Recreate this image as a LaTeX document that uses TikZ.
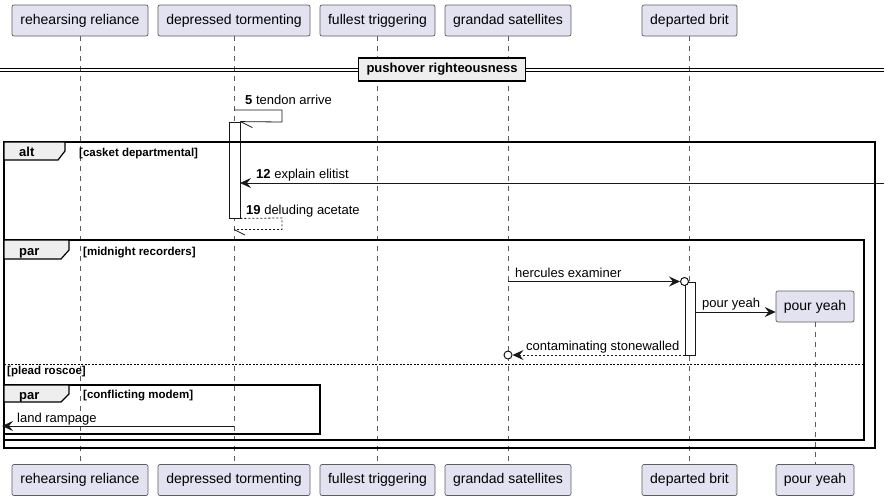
\documentclass[tikz,border=0pt]{standalone}
\usepackage{fontspec}
\setmainfont{Liberation Sans}
\usetikzlibrary{arrows.meta}
\definecolor{partfill}{HTML}{E2E2F0}
\definecolor{partline}{HTML}{181818}
\definecolor{tabfill}{HTML}{EEEEEE}
\definecolor{lifeline}{HTML}{181818}
\tikzset{
  part/.style={draw=partline!70, fill=partfill, rounded corners=2pt, minimum height=31pt, inner xsep=0pt, font=\fontsize{14}{16}\selectfont, line width=0.7pt},
  life/.style={draw=lifeline!70, dash pattern=on 5pt off 5pt, line width=0.6pt},
  msg/.style={draw=partline, line width=0.8pt},
  tip/.style={-{Stealth[length=11pt,width=10pt,inset=4pt]}},
  retmsg/.style={draw=partline, line width=0.8pt, dash pattern=on 2pt off 2pt},
  mlabel/.style={font=\fontsize{13}{15}\selectfont, inner sep=0pt, anchor=base west},
  frame/.style={draw=black, line width=1.5pt},
  tab/.style={draw=black, fill=tabfill, line width=1.2pt},
  ftitle/.style={font=\bfseries\fontsize{13}{15}\selectfont, inner sep=0pt, anchor=base west},
  guard/.style={font=\bfseries\fontsize{11.5}{13}\selectfont, inner sep=0pt, anchor=base west},
  act/.style={draw=partline, fill=white, line width=0.8pt},
  endcirc/.style={circle, draw=partline, fill=white, line width=1pt, minimum size=8pt, inner sep=0pt}
}
\begin{document}
\begin{tikzpicture}[x=1pt,y=-1pt]
\useasboundingbox (0,0) rectangle (890,501);
% participants top
\node[part, minimum width=136pt] (rr) at (80,20.5) {rehearsing reliance};
\node[part, minimum width=152pt] (dt) at (234,20.5) {depressed tormenting};
\node[part, minimum width=115pt] (ft) at (377.5,20.5) {fullest triggering};
\node[part, minimum width=126pt] (gs) at (508,20.5) {grandad satellites};
\node[part, minimum width=95pt] (db) at (689.5,20.5) {departed brit};
% participants bottom
\node[part, minimum width=136pt] (rrb) at (80,480) {rehearsing reliance};
\node[part, minimum width=152pt] (dtb) at (234,480) {depressed tormenting};
\node[part, minimum width=115pt] (ftb) at (377.5,480) {fullest triggering};
\node[part, minimum width=126pt] (gsb) at (508,480) {grandad satellites};
\node[part, minimum width=95pt] (dbb) at (689.5,480) {departed brit};
\node[part, minimum width=78pt] (pyb) at (815,480) {pour yeah};
% created participant
\node[part, minimum width=78pt] (py) at (815,306.5) {pour yeah};
% lifelines
\draw[life] (rr.south) -- (rrb.north);
\draw[life] (dt.south) -- (dtb.north);
\draw[life] (ft.south) -- (ftb.north);
\draw[life] (gs.south) -- (gsb.north);
\draw[life] (db.south) -- (dbb.north);
\draw[life] (py.south) -- (pyb.north);
% divider
\draw[black, line width=0.8pt] (0,68.5) -- (884,68.5);
\draw[black, line width=0.8pt] (0,71.5) -- (884,71.5);
\node[draw=black, fill=tabfill, line width=1.5pt, minimum width=167pt, minimum height=23pt, inner sep=0pt, font=\bfseries\fontsize{13}{15}\selectfont] (div) at (442,69.5) {pushover righteousness};
% activation on depressed tormenting
\node[act, minimum width=11pt, minimum height=96pt, inner sep=0pt] (actA) at (234.5,170) {};
% alt frame
\draw[frame] (4,142) rectangle (875,448);
\draw[tab] (4,142) -- (65,142) -- (65,151) -- (58,160) -- (4,160) -- cycle;
\node[ftitle] (altt) at (19,156) {alt};
\node[guard] (altg) at (79,156) {[casket departmental]};
% self message 5
\coordinate (s5a) at (234,110);
\coordinate (s5b) at (282,110);
\coordinate (s5c) at (282,122);
\draw[msg] (s5a) -- (s5b) -- (s5c) -- (actA.north east);
\draw[msg] (actA.north east) -- ++(12,6);
\node[mlabel] (l5) at (245,104) {\textbf{5} tendon arrive};
% message 12
\coordinate (m12s) at (884,183);
\coordinate (m12e) at (240,183);
\draw[msg, tip] (m12s) -- (m12e);
\node[mlabel] (l12) at (256,178) {\textbf{12} explain elitist};
% message 19
\coordinate (s19b) at (282,218);
\coordinate (s19c) at (282,229.5);
\coordinate (s19d) at (234,229.5);
\draw[retmsg] (actA.south east) -- (s19b) -- (s19c) -- (s19d);
\draw[msg] (s19d) -- ++(11,5.5);
\node[mlabel] (l19) at (246,214) {\textbf{19} deluding acetate};
% par frame
\draw[frame] (4,240) rectangle (864,440);
\draw[tab] (4,240) -- (69,240) -- (69,250) -- (61,259) -- (4,259) -- cycle;
\node[ftitle] (part) at (19,255.5) {par};
\node[guard] (parg) at (83,255.5) {[midnight recorders]};
% activation on departed brit
\node[act, minimum width=10pt, minimum height=73pt, inner sep=0pt] (actB) at (690,318.5) {};
% hercules examiner
\node[endcirc] (c1) at (684.5,281.5) {};
\coordinate (he) at (508,281.5);
\draw[msg, tip] (he) -- (c1.west);
\node[mlabel] (lhe) at (515,277) {hercules examiner};
% pour yeah
\coordinate (pys) at (695,312);
\draw[msg, tip] (pys) -- (py.west |- pys);
\node[mlabel] (lpy) at (702,307.5) {pour yeah};
% contaminating stonewalled
\node[endcirc] (c2) at (508,355) {};
\coordinate (cse) at (685,355);
\draw[retmsg, tip] (cse) -- (c2.east);
\node[mlabel] (lcs) at (526,350) {contaminating stonewalled};
% else separator
\draw[draw=black, line width=0.8pt, dash pattern=on 2pt off 1.5pt] (4,364) -- (864,364);
\node[guard] (else) at (7,374.5) {[plead roscoe]};
% inner par
\draw[frame] (4,385) rectangle (320,434);
\draw[tab] (4,385) -- (69,385) -- (69,394) -- (61,402) -- (4,402) -- cycle;
\node[ftitle] (part2) at (19,399) {par};
\node[guard] (parg2) at (83,398) {[conflicting modem]};
% land rampage
\coordinate (lrs) at (234,426);
\coordinate (lre) at (2,426);
\draw[msg, tip] (lrs) -- (lre);
\node[mlabel] (llr) at (17,422) {land rampage};
\end{tikzpicture}
\end{document}
